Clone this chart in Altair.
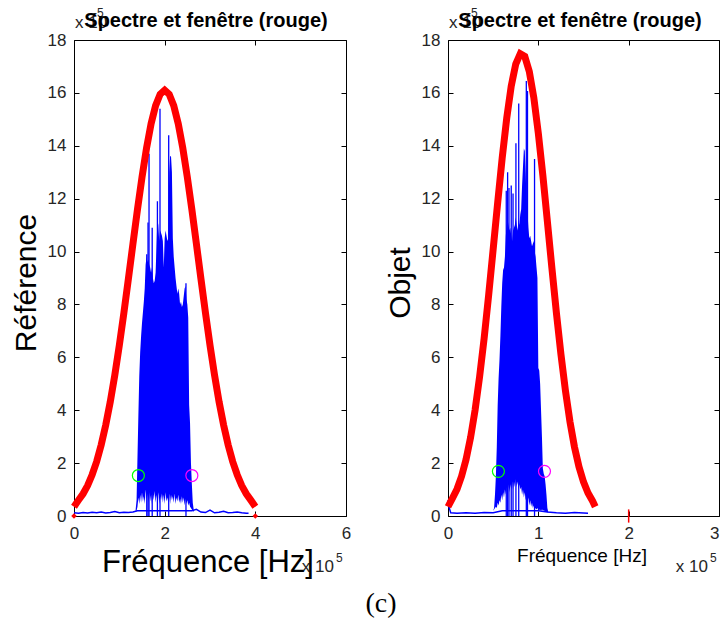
import altair as alt
import pandas as pd

FONT = "Liberation Sans"
TFONT = "Liberation Sans"
BLUE = "#0000ff"
RED = "#ff0000"

# ---------------- Left panel (Référence) ----------------
L_red_x = [0.0, 0.1, 0.2, 0.3, 0.4, 0.5, 0.6, 0.7, 0.8, 0.9, 1.0, 1.1, 1.2, 1.3, 1.4,
           1.5, 1.6, 1.7, 1.8, 1.9, 2.0, 2.1, 2.2, 2.3, 2.4, 2.5, 2.6, 2.7, 2.8, 2.9,
           3.0, 3.1, 3.2, 3.3, 3.4, 3.5, 3.6, 3.7, 3.8, 3.9, 4.0]
L_red_y = [0.35, 0.60, 0.84, 1.15, 1.56, 2.06, 2.69, 3.44, 4.32, 5.33, 6.46, 7.68, 8.97,
           10.29, 11.59, 12.81, 13.91, 14.83, 15.52, 15.95, 16.10, 15.95, 15.52, 14.83,
           13.91, 12.81, 11.59, 10.29, 8.97, 7.68, 6.46, 5.33, 4.32, 3.44, 2.69, 2.06,
           1.56, 1.15, 0.84, 0.60, 0.35]
L_mark_x = [0.0, 4.0]
L_mark_y = [0.0, 0.0]

L_base_x = [0.0, 0.1, 0.2, 0.3, 0.4, 0.5, 0.6, 0.7, 0.8, 0.9, 1.0, 1.1, 1.2, 1.3, 1.4,
            1.5, 1.6, 1.7, 1.8, 1.9, 2.0, 2.1, 2.2, 2.3, 2.4, 2.5, 2.6, 2.7, 2.8, 2.9,
            3.0, 3.1, 3.2, 3.3, 3.4, 3.5, 3.6, 3.7, 3.8, 3.85]
L_base_y = [0.12, 0.10, 0.13, 0.11, 0.14, 0.12, 0.15, 0.11, 0.13, 0.17, 0.12, 0.14, 0.13,
            0.15, 0.20, 0.20, 0.20, 0.20, 0.20, 0.20, 0.20, 0.20, 0.20, 0.20, 0.20, 0.20,
            0.20, 0.25, 0.15, 0.13, 0.22, 0.12, 0.14, 0.18, 0.12, 0.13, 0.15, 0.12, 0.10, 0.10]

L_band_x = [1.36, 1.38, 1.40, 1.42, 1.44, 1.46, 1.48, 1.50, 1.52, 1.54, 1.56, 1.58, 1.60,
            1.62, 1.64, 1.66, 1.68, 1.70, 1.72, 1.74, 1.76, 1.78, 1.80, 1.82, 1.84, 1.86,
            1.88, 1.90, 1.92, 1.94, 1.96, 1.98, 2.00, 2.02, 2.04, 2.06, 2.08, 2.10, 2.12,
            2.14, 2.16, 2.18, 2.20, 2.22, 2.24, 2.26, 2.28, 2.30, 2.32, 2.34, 2.36, 2.38,
            2.40, 2.42, 2.44, 2.46, 2.48, 2.50, 2.52, 2.54, 2.56, 2.58, 2.60, 2.62, 2.64]
L_band_hi = [0.25, 0.6, 2.2, 3.8, 5.3, 6.2, 6.8, 7.3, 7.7, 8.1, 8.6, 9.5, 9.8, 9.6, 9.7,
             9.5, 9.4, 9.2, 9.4, 9.0, 8.8, 8.9, 9.2, 10.2, 11.2, 11.0, 10.4, 10.8, 10.7,
             10.6, 10.4, 9.4, 10.5, 10.8, 10.6, 10.4, 10.5, 13.0, 13.6, 13.6, 13.0, 10.5,
             9.8, 9.4, 9.0, 8.7, 8.4, 8.6, 8.4, 8.0, 8.1, 7.9, 8.0, 8.3, 8.6, 8.7, 8.2,
             8.0, 7.5, 4.2, 3.5, 2.0, 1.2, 0.5, 0.25]
L_band_lo = [0.15, 0.2, 0.35, 0.7, 0.45, 0.8, 0.5, 0.9, 0.55, 0.75,
             0.45, 1.0, 0.6, 0.85, 0.5, 0.9, 0.55, 0.8, 0.45, 0.85,
             0.6, 0.95, 0.5, 0.8, 0.55, 0.9, 0.45, 0.75, 0.6, 0.85,
             0.5, 0.8, 0.45, 0.9, 0.55, 0.7, 0.5, 0.85, 0.45, 0.8,
             0.6, 0.75, 0.5, 0.85, 0.45, 0.7, 0.55, 0.8, 0.5, 0.65,
             0.45, 0.75, 0.5, 0.7, 0.4, 0.65, 0.45, 0.6, 0.4, 0.5,
             0.35, 0.3, 0.25, 0.2, 0.15]
L_spike_x = [1.605, 1.633, 1.655, 1.725, 1.84, 1.897, 2.089, 2.47]
L_spike_y = [9.9, 11.1, 13.7, 10.9, 11.9, 15.4, 14.4, 8.8]
L_circ_x = [1.42, 2.60]
L_circ_y = [1.53, 1.53]

# ---------------- Right panel (Objet) ----------------
R_red_x = [0.0, 0.05, 0.10, 0.15, 0.20, 0.25, 0.30, 0.35, 0.40, 0.45, 0.50, 0.55, 0.60,
           0.65, 0.70, 0.75, 0.80, 0.85, 0.90, 0.95, 1.00, 1.05, 1.10, 1.15, 1.20, 1.25,
           1.30, 1.35, 1.40, 1.45, 1.50, 1.55, 1.60, 1.63]
R_red_y = [0.35, 0.68, 1.02, 1.50, 2.14, 2.97, 4.01, 5.27, 6.72, 8.35, 10.09, 11.85, 13.54,
           15.04, 16.26, 17.09, 17.48, 17.38, 16.81, 15.82, 14.47, 12.88, 11.14, 9.38,
           7.68, 6.12, 4.74, 3.57, 2.61, 1.86, 1.29, 0.87, 0.57, 0.35]
R_tick_x = [2.0]
R_tick_lo = [-0.25]
R_tick_hi = [0.25]

R_base_x = [0.0, 0.01, 0.03, 0.1, 0.2, 0.3, 0.4, 0.5, 0.6, 0.7, 0.8, 0.9, 1.0, 1.1,
            1.2, 1.3, 1.4, 1.5, 1.55]
R_base_y = [0.6, 0.35, 0.12, 0.10, 0.12, 0.10, 0.13, 0.12, 0.20, 0.20, 0.20, 0.20, 0.20,
            0.15, 0.12, 0.10, 0.13, 0.11, 0.10]

R_band_x = [0.49, 0.50, 0.51, 0.52, 0.53, 0.54, 0.55, 0.56, 0.57, 0.58, 0.59, 0.60, 0.61,
            0.62, 0.63, 0.64, 0.65, 0.66, 0.67, 0.68, 0.69, 0.70, 0.71, 0.72, 0.73, 0.74,
            0.75, 0.76, 0.77, 0.78, 0.79, 0.80, 0.81, 0.82, 0.83, 0.84, 0.85, 0.86, 0.87,
            0.88, 0.89, 0.90, 0.91, 0.92, 0.93, 0.94, 0.95, 0.96, 0.97, 0.98, 0.99, 1.00,
            1.01, 1.02, 1.03, 1.04, 1.05, 1.06, 1.07, 1.08, 1.09, 1.10, 1.11]
R_band_hi = [0.15, 0.2, 0.3, 0.8, 1.5, 2.6, 4.2, 5.2, 5.9, 6.8, 7.9, 8.8, 9.3, 9.4, 9.8,
             10.6, 11.0, 11.2, 11.0, 10.8, 10.9, 10.6, 10.4, 10.8, 10.9, 11.0, 11.3, 11.0,
             10.8, 11.2, 11.0, 11.4, 11.6, 12.5, 13.2, 13.9, 13.8, 13.0, 11.8, 11.5, 10.9,
             10.5, 10.6, 10.4, 10.2, 10.3, 10.4, 10.0, 9.8, 9.4, 9.0, 5.6, 5.5, 5.0, 4.0,
             3.0, 1.8, 1.6, 1.5, 1.2, 0.8, 0.3, 0.15]
R_band_lo = [0.15, 0.2, 0.25, 0.3, 0.35,
             0.3, 0.5, 0.4, 0.6, 0.5, 0.8, 0.6, 0.9, 0.7, 1.0,
             0.8, 1.1, 0.9, 1.2, 0.9, 1.2, 1.0, 1.3, 1.0, 1.3,
             1.1, 1.4, 1.1, 1.3, 1.0, 1.2, 1.0, 1.1, 0.8, 1.0,
             0.7, 0.9, 0.6, 0.8, 0.5, 0.7, 0.4, 0.6, 0.35, 0.5,
             0.3, 0.4, 0.25, 0.3, 0.25, 0.3, 0.2, 0.25, 0.2, 0.25,
             0.2, 0.25, 0.2, 0.2, 0.15, 0.15, 0.15, 0.1]
R_spike_x = [0.645, 0.66, 0.675, 0.70, 0.72, 0.752, 0.783, 0.867, 0.88, 0.958]
R_spike_y = [12.3, 13.0, 12.4, 12.5, 12.2, 14.1, 15.6, 16.45, 16.07, 13.5]
R_circ_x = [0.558, 1.068]
R_circ_y = [1.69, 1.69]

Y_TICKS = [0, 2, 4, 6, 8, 10, 12, 14, 16, 18]
TITLE = "Spectre et fenêtre (rouge)"
XLABEL = "Fréquence [Hz]"
CAPTION = "(c)"


def text_layer(txt, x, y, size, font=FONT, weight="normal", align="center",
               angle=0, color="#000"):
    return alt.Chart(pd.DataFrame({"t": [txt]})).mark_text(
        align=align, baseline="alphabetic", font=font, fontSize=size, fontWeight=weight,
        angle=angle, color=color).encode(x=alt.value(x), y=alt.value(y), text="t:N")


def panel(W, H, xdom, xticks, red_x, red_y, base_x, base_y, band_x, band_hi, band_lo,
          sp_x, sp_y, circ_x, circ_y, ytitle, xtitle_size, xtitle_y, extras, flush_last):
    xs = alt.Scale(domain=xdom, nice=False, zero=False)
    ys = alt.Scale(domain=[0, 18], nice=False, zero=False)
    common = dict(domain=False, grid=False, tickColor="#000", tickWidth=1, tickSize=5,
                  title=None)
    if flush_last:
        x_align = {"condition": {"test": f"datum.value == {xticks[-1]}", "value": "right"},
                   "value": "center"}
    else:
        x_align = "center"
    xA = alt.Axis(orient="bottom", offset=-H, values=xticks, format="d", labelFlush=False,
                  labelAlign=x_align,
                  labelPadding=H + 4, labelFont=TFONT, labelFontSize=17, labelColor="#262626",
                  **common)
    xB = alt.Axis(orient="top", offset=-H, values=xticks, labels=False, **common)
    yA = alt.Axis(orient="left", offset=-W, values=Y_TICKS, format="d", labelPadding=W + 3,
                  labelFont=TFONT, labelFontSize=17, labelColor="#262626", **common)
    yB = alt.Axis(orient="right", offset=-W, values=Y_TICKS, labels=False, **common)

    base = alt.Chart(pd.DataFrame({"f": base_x, "a": base_y})).mark_line(
        color=BLUE, strokeWidth=1.5).encode(
        x=alt.X("f:Q", scale=xs, axis=xA), y=alt.Y("a:Q", scale=ys, axis=yA))
    band = alt.Chart(pd.DataFrame({"f": band_x, "hi": band_hi, "lo": band_lo})).mark_area(
        color=BLUE, opacity=1).encode(
        x=alt.X("f:Q", scale=xs, axis=xB), y=alt.Y("hi:Q", scale=ys, axis=yB), y2="lo:Q")
    spikes = alt.Chart(pd.DataFrame({"f": sp_x, "a": sp_y, "z": [0] * len(sp_x)})).mark_rule(
        color=BLUE, strokeWidth=1.3).encode(
        x=alt.X("f:Q", scale=xs, axis=None), y=alt.Y("a:Q", scale=ys, axis=None), y2="z:Q")
    red = alt.Chart(pd.DataFrame({"f": red_x, "a": red_y})).mark_line(
        color=RED, strokeWidth=7, strokeJoin="miter").encode(
        x=alt.X("f:Q", scale=xs, axis=None), y=alt.Y("a:Q", scale=ys, axis=None))
    circ = alt.Chart(pd.DataFrame({"f": circ_x, "a": circ_y, "c": ["g", "m"]})).mark_point(
        shape="circle", filled=False, size=144, strokeWidth=1.2, opacity=1).encode(
        x=alt.X("f:Q", scale=xs, axis=None), y=alt.Y("a:Q", scale=ys, axis=None),
        color=alt.Color("c:N", scale=alt.Scale(domain=["g", "m"], range=["#00ff00", "#ff00ff"]),
                        legend=None))
    texts = [
        text_layer("x 10", 1, -12, 17, font=TFONT, align="left", color="#262626"),
        text_layer("-5", 19, -23, 12, font=TFONT, align="left", color="#262626"),
        text_layer("x 10", 260, H + 56, 17, font=TFONT, align="right", color="#262626"),
        text_layer("5", 262, H + 46, 12, font=TFONT, align="left", color="#262626"),
        text_layer(TITLE, 132, -13, 20, weight="bold"),
        text_layer(ytitle, -38, 243, 30, angle=270),
        text_layer(XLABEL, 134, xtitle_y, xtitle_size),
    ]
    layers = [base, band, spikes, red] + [e(xs, ys) for e in extras] + [circ] + texts
    return alt.layer(*layers).resolve_axis(x="independent", y="independent").properties(
        width=W, height=H)


def left_marks(xs, ys):
    return alt.Chart(pd.DataFrame({"f": L_mark_x, "a": L_mark_y})).mark_point(
        shape="diamond", filled=True, size=30, color=RED, opacity=1).encode(
        x=alt.X("f:Q", scale=xs, axis=None), y=alt.Y("a:Q", scale=ys, axis=None))


def right_tick(xs, ys):
    return alt.Chart(pd.DataFrame({"f": R_tick_x, "lo": R_tick_lo, "hi": R_tick_hi})).mark_rule(
        color=RED, strokeWidth=1.5).encode(
        x=alt.X("f:Q", scale=xs, axis=None), y=alt.Y("lo:Q", scale=ys, axis=None), y2="hi:Q")


def caption(xs, ys):
    return text_layer(CAPTION, -67, 572, 28, font="Liberation Serif")


left = panel(272, 476, [0, 6], [0, 2, 4, 6], L_red_x, L_red_y, L_base_x, L_base_y,
             L_band_x, L_band_hi, L_band_lo, L_spike_x, L_spike_y, L_circ_x, L_circ_y,
             "Référence", 31, 532, [left_marks], False)
right = panel(271, 476, [0, 3], [0, 1, 2, 3], R_red_x, R_red_y, R_base_x, R_base_y,
              R_band_x, R_band_hi, R_band_lo, R_spike_x, R_spike_y, R_circ_x, R_circ_y,
              "Objet", 19, 522, [right_tick, caption], True)

chart = alt.hconcat(left, right, spacing=102, bounds="flush").properties(
    padding={"left": 11, "top": 6, "right": 0, "bottom": 0}
).configure_view(stroke="#000", strokeWidth=1)

chart.save("out.html", embed_options={"renderer": "svg", "actions": False})
